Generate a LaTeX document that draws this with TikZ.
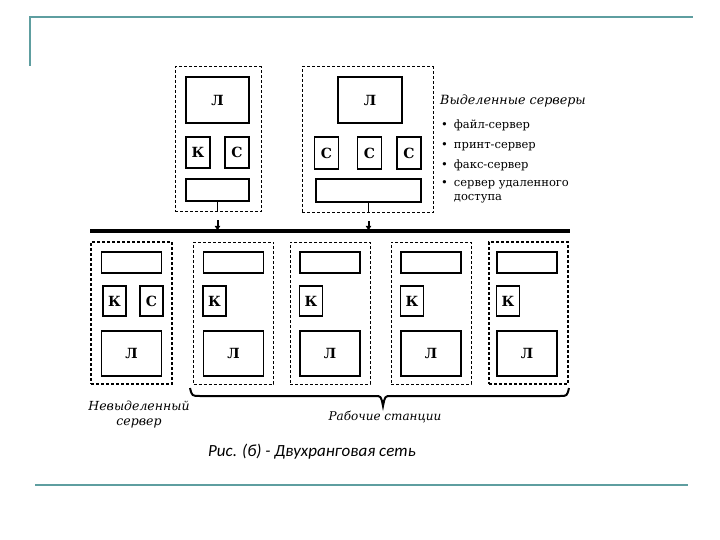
\documentclass[tikz,border=0pt]{standalone}
\usepackage{fontspec}
\setmainfont{DejaVu Serif}
\newfontfamily\capfont{Carlito}
\usetikzlibrary{arrows.meta}
\definecolor{slideline}{RGB}{94,158,160}

\begin{document}
\begin{tikzpicture}[x=1pt,y=-1pt,
  frame/.style={draw,dash pattern=on 3pt off 2pt,line width=1pt,inner sep=0pt},
  part/.style={draw,line width=1.7pt,inner sep=0pt,font=\bfseries\fontsize{14}{14}\selectfont},
  nic/.style={part,minimum width=60pt,minimum height=21pt},
  kbox/.style={part,minimum width=23pt,minimum height=30pt},
  lbox/.style={part,minimum width=60pt,minimum height=45pt},
  note/.style={inner sep=0pt,align=center,font=\itshape\fontsize{12.5}{15}\selectfont},
  tap/.style={line width=2pt,shorten <=8pt,-{Latex[length=5pt,width=6pt]}}]
  \useasboundingbox (0,0) rectangle (720,540);
  % slide rules
  \draw[slideline,line width=2pt] (30,66) -- (30,17) -- (693,17);
  \draw[slideline,line width=2pt] (35,485) -- (688,485);
  % bus
  \coordinate (busL) at (90,231);
  \coordinate (busR) at (570,231);
  \draw[line width=3pt] (busL) -- (busR);
  % dedicated servers
  \node[frame,minimum width=86pt,minimum height=145pt] (srvA) at (218,139.5) {};
  \node[part,minimum width=63pt,minimum height=46pt] (srvAl) at (217.5,100) {Л};
  \node[part,minimum width=24pt,minimum height=31pt] (srvAk) at (198,152.5) {К};
  \node[part,minimum width=24pt,minimum height=31pt] (srvAc) at (237,152.5) {С};
  \node[part,minimum width=63pt,minimum height=22pt] (srvAn) at (217.5,190) {};
  \node[frame,minimum width=131pt,minimum height=146pt] (srvB) at (367.5,140) {};
  \node[part,minimum width=64pt,minimum height=46pt] (srvBl) at (370,100) {Л};
  \node[part,minimum width=24pt,minimum height=32pt] (srvBc1) at (326.5,153) {С};
  \node[part,minimum width=24pt,minimum height=32pt] (srvBc2) at (369.5,153) {С};
  \node[part,minimum width=24pt,minimum height=32pt] (srvBc3) at (409,153) {С};
  \node[part,minimum width=105pt,minimum height=23pt] (srvBn) at (368.5,190.5) {};
  \draw[line width=1.6pt] (srvAn.south) -- (srvAn.south |- srvA.south);
  \draw[line width=1.6pt] (srvBn.south) -- (srvBn.south |- srvB.south);
  \draw[tap] (srvAn.south |- srvA.south) -- (srvAn.south |- busL);
  \draw[tap] (srvBn.south |- srvB.south) -- (srvBn.south |- busL);
  \node[anchor=west,inner sep=0pt,font=\itshape\fontsize{12.7}{13}\selectfont] (srvhead) at (440,101) {Выделенные серверы};
  \node[anchor=north west,inner sep=0pt,font=\fontsize{11.5}{14}\selectfont] (srvlist) at (441,119)
    {\begin{tabular}{@{}l@{\hspace{6pt}}l@{}}
      \textbullet & файл-сервер\\[6pt]
      \textbullet & принт-сервер\\[6pt]
      \textbullet & факс-сервер\\[4pt]
      \textbullet & сервер удаленного\\
                  & доступа
    \end{tabular}};
  % non-dedicated server
  \node[frame,line width=1.4pt,minimum width=81pt,minimum height=142pt] (ws0) at (131.5,313) {};
  \node[nic] (ws0n) at (131.5,262.5) {};
  \node[kbox] (ws0k) at (114.5,301) {К};
  \node[kbox] (ws0c) at (151.5,301) {С};
  \node[lbox] (ws0l) at (131.5,353.5) {Л};
  % workstations
  \node[frame,minimum width=80pt,minimum height=142pt] (ws1) at (233.5,313) {};
  \node[nic] (ws1n) at (233.5,262.5) {};
  \node[kbox] (ws1k) at (214.5,301) {К};
  \node[lbox] (ws1l) at (233.5,353.5) {Л};
  \node[frame,minimum width=80pt,minimum height=142pt] (ws2) at (330,313) {};
  \node[nic] (ws2n) at (330,262.5) {};
  \node[kbox] (ws2k) at (311,301) {К};
  \node[lbox] (ws2l) at (330,353.5) {Л};
  \node[frame,minimum width=80pt,minimum height=142pt] (ws3) at (431,313) {};
  \node[nic] (ws3n) at (431,262.5) {};
  \node[kbox] (ws3k) at (412,301) {К};
  \node[lbox] (ws3l) at (431,353.5) {Л};
  \node[frame,line width=1.4pt,minimum width=79pt,minimum height=142pt] (ws4) at (528.5,313) {};
  \node[nic] (ws4n) at (527,262.5) {};
  \node[kbox] (ws4k) at (508,301) {К};
  \node[lbox] (ws4l) at (527,353.5) {Л};
  % brace under the workstations
  \draw[line width=2pt] (190,388) .. controls (192,396) .. (200,396) -- (375,396)
    .. controls (381,396) .. (383,406) .. controls (385,396) .. (391,396) -- (560,396)
    .. controls (567,396) .. (569,388);
  \node[note] (ws0txt) at (139,415) {Невыделенный\\сервер};
  \node[note,font=\itshape\fontsize{12}{15}\selectfont] (wstxt) at (385,417) {Рабочие станции};
  \node[inner sep=0pt,font=\capfont\itshape\fontsize{17}{17}\selectfont] (cap) at (312,452) {Рис. (б) - Двухранговая сеть};
\end{tikzpicture}
\end{document}
